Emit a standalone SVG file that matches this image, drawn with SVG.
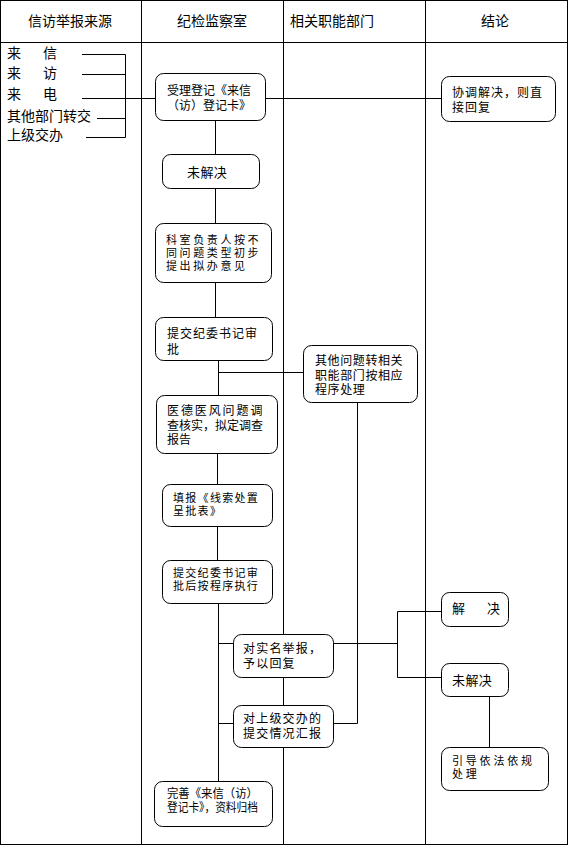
<svg xmlns="http://www.w3.org/2000/svg" width="569" height="846" viewBox="0 0 569 846">
<style>
.bg{fill:#fff}
.grid{fill:none;stroke:#000;stroke-width:1}
.node rect{fill:#fff;stroke:#000;stroke-width:1}
.t{font-family:"Noto Sans CJK SC","Noto Sans CJK JP",sans-serif;font-size:12px;fill:#000}
.h{font-family:"Noto Sans CJK SC","Noto Sans CJK JP",sans-serif;font-size:14px;fill:#000}
.m{font-size:13px}
.s{font-size:11px}
#connectors path{fill:none;stroke:#000;stroke-width:1}
</style>
<rect class="bg" x="0" y="0" width="569" height="846"/>
<g id="table">
<rect class="grid" x="0.5" y="0.5" width="567" height="844"/>
<path class="grid" d="M0 42.5H568M141.5 0V845M283.5 0V845M425.5 0V845"/>
<text class="h" x="28" y="26">信访举报来源</text>
<text class="h" x="177" y="26">纪检监察室</text>
<text class="h" x="290" y="26">相关职能部门</text>
<text class="h" x="481" y="26">结论</text>
</g>
<g id="sources">
<text class="h" x="7" y="58" letter-spacing="4">来　信</text>
<text class="h" x="7" y="78" letter-spacing="4">来　访</text>
<text class="h" x="7" y="99" letter-spacing="4">来　电</text>
<text class="h" x="7" y="121">其他部门转交</text>
<text class="h" x="7" y="140">上级交办</text>
</g>
<g id="connectors">
<path d="M82 54.5H125.5M82 74.5H125.5M125.5 54.5V137.5M97 118.5H125.5M86 137.5H125.5"/>
<path d="M82 98.5H155.5"/>
<path d="M265 98.5H441"/>
<path d="M215.5 121V154M215.5 188V223M215.5 282V317"/>
<path d="M218.5 360V395M218.5 372.5H303"/>
<path d="M217.5 453V484M217.5 526V560"/>
<path d="M218.5 603V781M218.5 643.5H233M218.5 723.5H233"/>
<path d="M333 643.5H397.5M397.5 611.5V677.5M397.5 611.5H441M397.5 677.5H441"/>
<path d="M357.5 402V723.5H333"/>
<path d="M489.5 696V747"/>
</g>
<g id="n1" class="node"><rect x="155.5" y="73.5" width="110" height="47" rx="8"/>
<text class="t" x="167" y="94.5">受理登记《来信</text><text class="t" x="167" y="109.5">（访）登记卡》</text></g>
<g id="n2" class="node"><rect x="441.5" y="76.5" width="114" height="45" rx="8"/>
<text class="t" x="452" y="96.5" letter-spacing="1">协调解决，则直</text><text class="t" x="452" y="111.5" letter-spacing="1">接回复</text></g>
<g id="n3" class="node"><rect x="162.5" y="154.5" width="97" height="34" rx="8"/>
<text class="t m" x="187" y="177" letter-spacing="0.4">未解决</text></g>
<g id="n4" class="node"><rect x="155.5" y="223.5" width="116" height="59" rx="8"/>
<text class="t s" x="166" y="244" letter-spacing="2.6">科室负责人按不</text><text class="t s" x="166" y="257" letter-spacing="2.6">同问题类型初步</text><text class="t s" x="166" y="270" letter-spacing="2.6">提出拟办意见</text></g>
<g id="n5" class="node"><rect x="155.5" y="317.5" width="117" height="43" rx="8"/>
<text class="t" x="167" y="337.5" letter-spacing="1">提交纪委书记审</text><text class="t" x="167" y="353.5">批</text></g>
<g id="n6" class="node"><rect x="303.5" y="345.5" width="114" height="57" rx="8"/>
<text class="t" x="315" y="364.5" letter-spacing="0.6">其他问题转相关</text><text class="t" x="315" y="379.5" letter-spacing="0.6">职能部门按相应</text><text class="t" x="315" y="393.5" letter-spacing="0.6">程序处理</text></g>
<g id="n7" class="node"><rect x="156.5" y="395.5" width="121" height="58" rx="8"/>
<text class="t" x="167" y="414.5" letter-spacing="1.9">医德医风问题调</text><text class="t" x="167" y="429.5">查核实，拟定调查</text><text class="t" x="167" y="443.5">报告</text></g>
<g id="n8" class="node"><rect x="162.5" y="484.5" width="110" height="42" rx="8"/>
<text class="t s" x="173" y="502" letter-spacing="1.3">填报《线索处置</text><text class="t s" x="173" y="515" letter-spacing="1.3">呈批表》</text></g>
<g id="n9" class="node"><rect x="162.5" y="560.5" width="110" height="43" rx="8"/>
<text class="t s" x="173" y="577" letter-spacing="1.3">提交纪委书记审</text><text class="t s" x="173" y="590" letter-spacing="1.3">批后按程序执行</text></g>
<g id="n10" class="node"><rect x="233.5" y="634.5" width="100" height="43" rx="8"/>
<text class="t" x="243" y="652.5" letter-spacing="1.2">对实名举报，</text><text class="t" x="243" y="667.5" letter-spacing="1.2">予以回复</text></g>
<g id="n11" class="node"><rect x="233.5" y="705.5" width="100" height="42" rx="8"/>
<text class="t" x="243" y="722.5" letter-spacing="1.2">对上级交办的</text><text class="t" x="243" y="737.5" letter-spacing="1.2">提交情况汇报</text></g>
<g id="n12" class="node"><rect x="441.5" y="592.5" width="67" height="34" rx="8"/>
<text class="t m" x="452" y="613" letter-spacing="4.5">解　决</text></g>
<g id="n13" class="node"><rect x="441.5" y="663.5" width="67" height="33" rx="8"/>
<text class="t m" x="452" y="685" letter-spacing="0.4">未解决</text></g>
<g id="n14" class="node"><rect x="441.5" y="747.5" width="107" height="43" rx="8"/>
<text class="t s" x="452" y="764.5" letter-spacing="2.8">引导依法依规</text><text class="t s" x="452" y="777.5" letter-spacing="2.8">处理</text></g>
<g id="n15" class="node"><rect x="154.5" y="781.5" width="118" height="45" rx="8"/>
<text class="t" x="167" y="797.5" textLength="91" lengthAdjust="spacingAndGlyphs">完善《来信（访）</text><text class="t" x="167" y="811.5" textLength="91" lengthAdjust="spacingAndGlyphs">登记卡》，资料归档</text></g>
</svg>
